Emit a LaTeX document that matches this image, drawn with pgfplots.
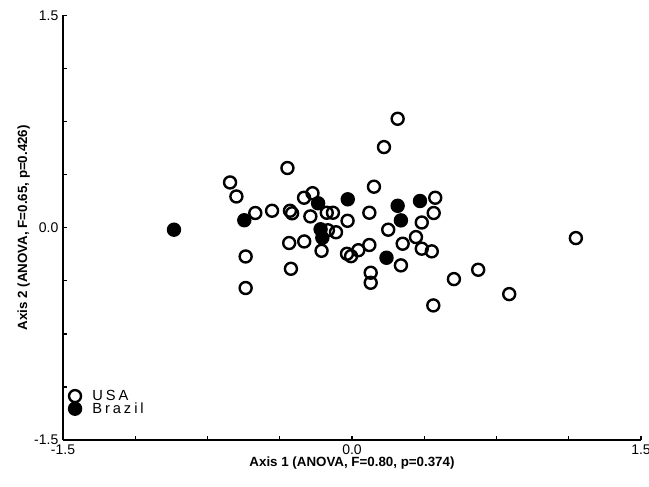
\documentclass[border=0pt]{standalone}
\usepackage{fontspec}
\setmainfont{Liberation Sans}
\usepackage{pgfplots}
\pgfplotsset{compat=1.18}
\begin{document}
\begin{tikzpicture}
\begin{axis}[
  scale only axis,
  width=433.5pt, height=318.4pt,
  xmin=-1.5, xmax=1.5, ymin=-1.5, ymax=1.5,
  axis lines*=left,
  axis line style={line width=1.5pt, black},
  clip=false,
  xtick={-1.5,-1.125,-0.75,-0.375,0,0.375,0.75,1.125,1.5},
  xticklabels={-1.5,,,,0.0,,,,1.5},
  ytick={-1.5,-1.125,-0.75,-0.375,0,0.375,0.75,1.125,1.5},
  yticklabels={-1.5,,,,0.0,,,,1.5},
  tick align=inside,
  major tick length=3pt,
  tick style={line width=1pt, black},
  tick label style={font=\fontsize{10.5}{12}\selectfont},
  xlabel={Axis 1 (ANOVA, F=0.80, p=0.374)},
  ylabel={Axis 2 (ANOVA, F=0.65, p=0.426)},
  label style={font=\fontsize{10}{12}\selectfont\bfseries},
  xlabel style={at={(axis description cs:0.5,-0.0542)}, anchor=center},
  ylabel style={at={(axis description cs:-0.0680,0.5)}, anchor=center},
  legend style={at={(axis description cs:0.0100,0.1182)}, anchor=north west,
    draw=none, fill=none, inner sep=0pt, row sep=0.45pt,
    font=\fontsize{11}{12}\selectfont\addfontfeature{LetterSpace=20},
    nodes={inner sep=0pt, text height=7pt, text depth=0pt},
    /tikz/every odd column/.append style={column sep=8.5pt}},
  legend cell align=left,
  legend image code/.code={\draw[#1] plot coordinates {(0pt,0pt)};},
]
% USA
\addplot[only marks, mark=o, draw=black, mark size=4.5pt, line width=1.8pt] coordinates {
(-0.335,0.422) (-0.633,0.320) (-0.600,0.221) (-0.502,0.104) (-0.415,0.120)
(-0.322,0.120) (-0.311,0.102) (-0.249,0.212) (-0.205,0.244) (-0.216,0.080)
(-0.131,0.106) (-0.099,0.106) (-0.023,0.049) (-0.326,-0.108) (-0.248,-0.097)
(-0.125,-0.018) (-0.083,-0.032) (-0.158,-0.163) (-0.552,-0.203) (-0.317,-0.290)
(-0.552,-0.426) (0.237,0.770) (0.166,0.570) (0.114,0.290) (0.432,0.212)
(0.424,0.104) (0.090,0.106) (0.362,0.037) (0.188,-0.014) (0.332,-0.066)
(0.263,-0.113) (0.362,-0.148) (0.414,-0.167) (0.090,-0.122) (0.033,-0.159)
(-0.026,-0.184) (-0.005,-0.201) (0.254,-0.266) (0.097,-0.318) (0.097,-0.389)
(0.529,-0.363) (0.655,-0.297) (0.816,-0.469) (0.422,-0.549) (1.162,-0.073)
};
% Brazil
\addplot[only marks, mark=*, draw=black, fill=black, mark size=4.5pt, line width=1.8pt] coordinates {
(-0.924,-0.014) (-0.559,0.053) (-0.176,0.173) (-0.022,0.201) (-0.163,-0.011)
(-0.154,-0.071) (0.237,0.155) (0.353,0.189) (0.254,0.052) (0.179,-0.212)
};
\legend{USA,Brazil}
\end{axis}
\pgfresetboundingbox
\useasboundingbox ([xshift=-47.25pt,yshift=-34.5pt]current axis.south west) rectangle ([xshift=6pt,yshift=11.6pt]current axis.north east);
\end{tikzpicture}
\end{document}
